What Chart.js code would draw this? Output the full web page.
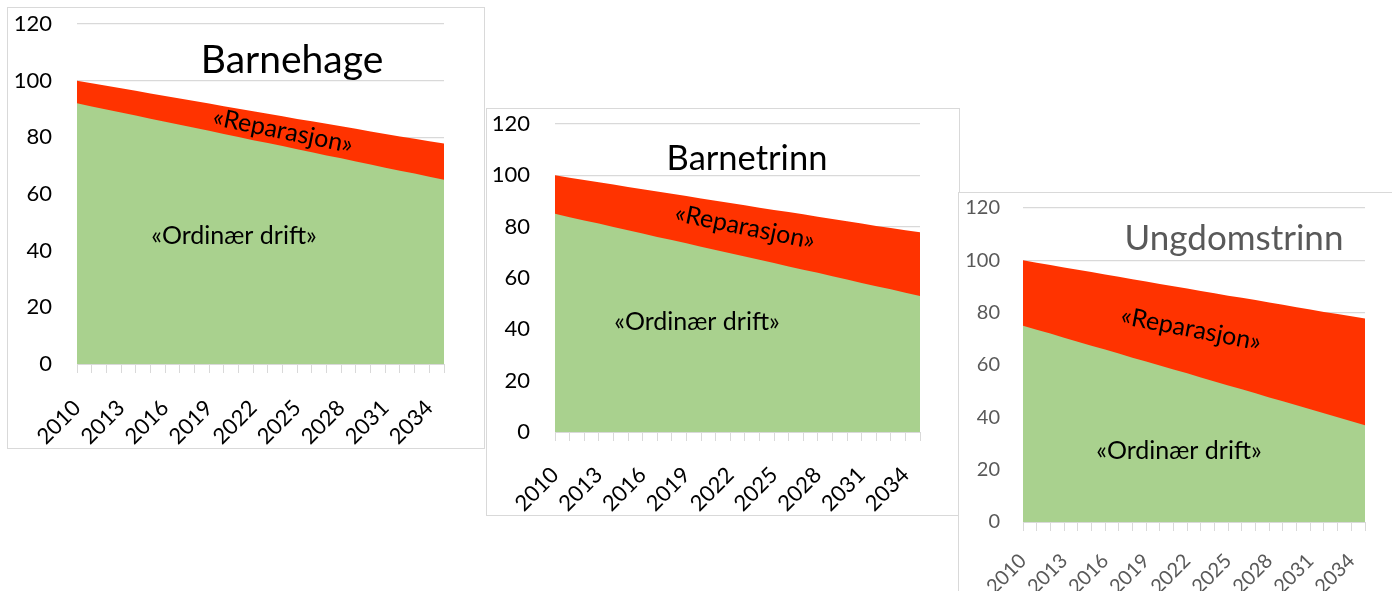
<!DOCTYPE html>
<html>
<head>
<meta charset="utf-8">
<script src="https://cdn.jsdelivr.net/npm/chart.js@4.4.1/dist/chart.umd.min.js"></script>
<style>
    html, body { margin: 0; padding: 0; background: #fff; overflow: hidden; }
    body { width: 1392px; height: 591px; position: relative; }
    .box { position: absolute; border: 1px solid #d9d9d9; background: #fff; }
    .box canvas { display: block; }
</style>
</head>
<body>
<div class="box" style="left:7px; top:7px; width:476px; height:440px;"><canvas id="barnehage" width="476" height="440"></canvas></div>
<div class="box" style="left:486px; top:108px; width:472px; height:406px;"><canvas id="barnetrinn" width="472" height="406"></canvas></div>
<div class="box" style="left:958px; top:192px; width:440px; height:420px;"><canvas id="ungdomstrinn" width="440" height="420"></canvas></div>
<script>
// Index, 2010 = 100
const years = ['2010', '2011', '2012', '2013', '2014', '2015', '2016', '2017', '2018', '2019', '2020', '2021', '2022',
    '2023', '2024', '2025', '2026', '2027', '2028', '2029', '2030', '2031', '2032', '2033', '2034', '2035'];
const tickLabels = ['2010', '2013', '2016', '2019', '2022', '2025', '2028', '2031', '2034'];
const yTicks = [0, 20, 40, 60, 80, 100, 120];

// top of the red band (ordinær drift + reparasjon), same for all three
const totalIndex = [100.0, 99.1, 98.2, 97.3, 96.4, 95.5, 94.6, 93.7, 92.8, 91.9, 91.0, 90.1, 89.2,
    88.3, 87.4, 86.5, 85.7, 84.8, 83.9, 83.0, 82.1, 81.2, 80.3, 79.5, 78.6, 77.8];

const barnehageDrift = [92.0, 90.9, 89.8, 88.8, 87.7, 86.6, 85.5, 84.4, 83.4, 82.3, 81.2, 80.1, 79.0,
    78.0, 76.9, 75.8, 74.7, 73.6, 72.6, 71.5, 70.4, 69.3, 68.2, 67.2, 66.1, 65.0];
const barnetrinnDrift = [85.0, 83.7, 82.4, 81.2, 79.9, 78.6, 77.3, 76.0, 74.8, 73.5, 72.2, 70.9, 69.6,
    68.4, 67.1, 65.8, 64.5, 63.2, 62.0, 60.7, 59.4, 58.1, 56.8, 55.6, 54.3, 53.0];
const ungdomstrinnDrift = [75.0, 73.5, 72.0, 70.4, 68.9, 67.4, 65.9, 64.4, 62.8, 61.3, 59.8, 58.3, 56.8,
    55.2, 53.7, 52.2, 50.7, 49.2, 47.6, 46.1, 44.6, 43.1, 41.6, 40.0, 38.5, 37.0];

const GREEN = '#a9d18e';
const RED = '#ff3300';
const GRID = '#d9d9d9';
const FONT = 'Lato, "Open Sans", sans-serif';

// titles and the two in-area labels, drawn on top of the areas
const notesPlugin = {
    id: 'notes',
    afterDatasetsDraw(chart, args, opts) {
        const ctx = chart.ctx;
        (opts.items || []).forEach((n) => {
            ctx.save();
            ctx.translate(n.x, n.y);
            ctx.rotate((n.angle || 0) * Math.PI / 180);
            ctx.font = `${n.size}px ${FONT}`;
            ctx.fillStyle = n.color || '#000';
            ctx.textAlign = 'center';
            ctx.textBaseline = n.baseline || 'middle';
            ctx.fillText(n.text, 0, 0);
            ctx.restore();
        });
    },
};

function makeChart(id, drift, s) {
    return new Chart(document.getElementById(id), {
        type: 'line',
        data: {
            labels: years,
            datasets: [
                { label: '«Ordinær drift»', data: drift, fill: 'origin', backgroundColor: GREEN,
                    borderWidth: 0, pointRadius: 0, tension: 0 },
                { label: '«Reparasjon»', data: totalIndex, fill: 'origin', backgroundColor: RED,
                    borderWidth: 0, pointRadius: 0, tension: 0 },
            ],
        },
        options: {
            responsive: false,
            animation: false,
            layout: { padding: { top: s.top, right: s.right, left: 0, bottom: 0 } },
            plugins: {
                legend: { display: false },
                tooltip: { enabled: false },
                notes: { items: s.notes },
            },
            scales: {
                x: {
                    offset: false,
                    border: { display: true, color: GRID, width: 1 },
                    grid: { drawOnChartArea: false, drawTicks: true, tickLength: 9, color: GRID },
                    ticks: {
                        autoSkip: false,
                        maxRotation: 45,
                        minRotation: 45,
                        padding: s.xPad,
                        color: s.tickColor,
                        font: { family: FONT, size: s.tickSize },
                        callback: (v, i) => (tickLabels.includes(years[i]) ? years[i] : ''),
                    },
                    afterFit: (scale) => {
                        scale.height = s.xHeight;
                        scale.paddingLeft = 0;
                        scale.paddingRight = 0;
                    },
                },
                y: {
                    min: 0,
                    max: 120,
                    border: { display: false },
                    grid: { color: GRID, lineWidth: 1.2, drawTicks: false },
                    afterBuildTicks: (scale) => { scale.ticks = yTicks.map((value) => ({ value })); },
                    ticks: {
                        padding: s.yPad,
                        color: s.tickColor,
                        font: { family: FONT, size: s.tickSize },
                    },
                    afterFit: (scale) => {
                        scale.width = s.yWidth;
                        scale.paddingTop = 0;
                        scale.paddingBottom = 0;
                    },
                },
            },
        },
        plugins: [notesPlugin],
    });
}

makeChart('barnehage', barnehageDrift, {
    top: 16, right: 40, yWidth: 69, xHeight: 84, yPad: 25, xPad: 22,
    tickSize: 22, tickColor: '#000',
    notes: [
        { text: 'Barnehage', x: 284, y: 65, size: 39, baseline: 'alphabetic' },
        { text: '«Reparasjon»', x: 275, y: 123, size: 25, angle: 11.5 },
        { text: '«Ordinær drift»', x: 226, y: 228, size: 25 },
    ],
});

makeChart('barnetrinn', barnetrinnDrift, {
    top: 15, right: 39, yWidth: 68, xHeight: 83, yPad: 25, xPad: 21,
    tickSize: 22, tickColor: '#000',
    notes: [
        { text: 'Barnetrinn', x: 260, y: 61, size: 34.5, baseline: 'alphabetic' },
        { text: '«Reparasjon»', x: 258, y: 118, size: 25, angle: 11.5 },
        { text: '«Ordinær drift»', x: 210, y: 213, size: 25 },
    ],
});

makeChart('ungdomstrinn', ungdomstrinnDrift, {
    top: 15, right: 34, yWidth: 64, xHeight: 91, yPad: 23, xPad: 18,
    tickSize: 20, tickColor: '#595959',
    notes: [
        { text: 'Ungdomstrinn', x: 275, y: 57, size: 35, color: '#595959', baseline: 'alphabetic' },
        { text: '«Reparasjon»', x: 232, y: 136, size: 25, angle: 11 },
        { text: '«Ordinær drift»', x: 220, y: 258, size: 25 },
    ],
});
</script>
</body>
</html>
